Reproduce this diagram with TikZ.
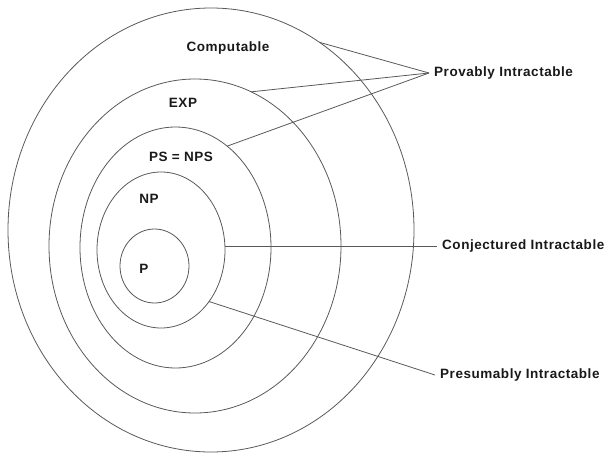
\documentclass[tikz,border=0pt]{standalone}
\usepackage{fontspec}
\setmainfont[LetterSpace=4]{Liberation Sans}
\usetikzlibrary{shapes.geometric}
\begin{document}
\begin{tikzpicture}[x=1pt, y=-1pt,
    ring/.style={draw=black!65, line width=.8pt, ellipse, inner sep=0pt, outer sep=0pt},
    lbl/.style={font=\bfseries\fontsize{13.5}{15}\selectfont, text=black!90, inner sep=0pt},
    side/.style={lbl, anchor=west, inner sep=5pt},
    link/.style={draw=black!65, line width=.8pt}]
  \useasboundingbox (0,0) rectangle (606,461);
  % nested classes, outermost first
  \foreach \name/\cx/\cy/\w/\h in {comp/211/230/406/444, exp/195/246/292/334,
      pspace/175.5/247.5/191/241, np/161/250/128/156, p/154.5/266/69/74}{
    \node[ring, minimum width=\w pt, minimum height=\h pt] (\name) at (\cx,\cy) {};
  }
  \node[lbl] (compLbl) at (228,48) {Computable};
  \node[lbl] (expLbl) at (183,103) {EXP};
  \node[lbl] (psLbl) at (181,157) {PS = NPS};
  \node[lbl] (npLbl) at (149,199) {NP};
  \node[lbl] (pLbl) at (144,269) {P};
  % side labels
  \node[side] (prov) at (429,73) {Provably Intractable};
  \node[side] (conj) at (437,246) {Conjectured Intractable};
  \node[side] (pres) at (435,375) {Presumably Intractable};
  \foreach \from in {comp.60, exp.70, pspace.63}
    \draw[link] (\from) -- (prov.west);
  \draw[link] (np.east |- conj.west) -- (conj.west);
  \draw[link] (np.-47) -- (pres.west);
\end{tikzpicture}
\end{document}
